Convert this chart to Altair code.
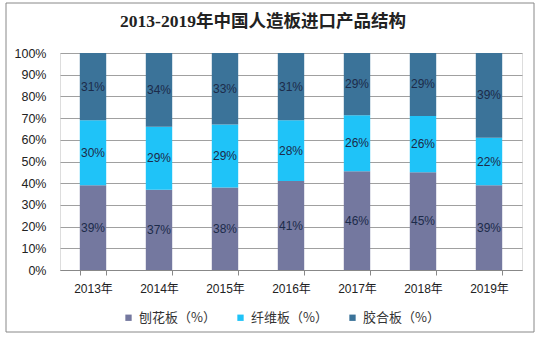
import altair as alt
import pandas as pd

years = ["2013年", "2014年", "2015年", "2016年", "2017年", "2018年", "2019年"]
particle = [39, 37, 38, 41, 46, 45, 39]
fiber = [30, 29, 29, 28, 26, 26, 22]
plywood = [31, 34, 33, 31, 29, 29, 39]
series = ["刨花板（%）", "纤维板（%）", "胶合板（%）"]
colors = ["#74789F", "#1FC3F8", "#3B7399"]
title_text = "2013-2019年中国人造板进口产品结构"
y_ticks = [0, 0.1, 0.2, 0.3, 0.4, 0.5, 0.6, 0.7, 0.8, 0.9, 1.0]

rows = []
for s_i, (name, vals) in enumerate(zip(series, [particle, fiber, plywood])):
    for y, v in zip(years, vals):
        rows.append({"year": y, "series": name, "value": v, "order": s_i})
df = pd.DataFrame(rows)

base = alt.Chart(df).transform_stack(
    stack="value", groupby=["year"], as_=["y0", "y1"], offset="normalize",
    sort=[alt.SortField("order", order="ascending")]
).transform_calculate(mid="(datum.y0 + datum.y1) / 2", label="datum.value + '%'")

xaxis = alt.Axis(labelAngle=0, labelFontSize=12, labelColor="#222",
                 labelFont="Liberation Sans, Noto Sans CJK SC",
                 domainColor="#888", tickColor="#888", tickBand="extent",
                 tickSize=5, labelPadding=8)
yaxis = alt.Axis(format=".0%", values=y_ticks, labelOverlap=False,
                 labelFontSize=12.5, labelColor="#222", domain=False, ticks=False,
                 gridColor="#A0A0A0", labelPadding=14,
                 labelFont="Liberation Sans, Noto Sans CJK SC")
xscale = alt.Scale(paddingInner=0.6, paddingOuter=0.3)
yscale = alt.Scale(domain=[0, 1])

bars = base.mark_bar().encode(
    x=alt.X("year:N", sort=years, title=None, scale=xscale, axis=xaxis),
    y=alt.Y("y0:Q", title=None, scale=yscale, axis=yaxis),
    y2="y1:Q",
    color=alt.Color("series:N", sort=series,
                    scale=alt.Scale(domain=series, range=colors),
                    legend=alt.Legend(orient="none", legendX=62, legendY=258,
                                      direction="horizontal", title=None,
                                      symbolType="square", symbolSize=40,
                                      labelFontSize=13, labelColor="#333",
                                      labelFont="Noto Sans CJK SC",
                                      columnPadding=18, symbolStrokeWidth=0)),
    order=alt.Order("order:Q"),
)

texts = base.mark_text(fontSize=12, color="#1C2B4A",
                       font="Liberation Sans, Noto Sans CJK SC").encode(
    x=alt.X("year:N", sort=years, title=None, scale=xscale, axis=xaxis),
    y=alt.Y("mid:Q", title=None, scale=yscale, axis=yaxis),
    text="label:N",
)

one = pd.DataFrame({"t": [title_text]})
frame = alt.Chart(one).mark_rect(
    fill=None, stroke="#888", strokeWidth=1
).encode(x=alt.value(-54), x2=alt.value(474), y=alt.value(-50), y2=alt.value(279))

title = alt.Chart(one).mark_text(
    fontSize=17.5, font="Liberation Serif, Noto Sans CJK SC", fontWeight="bold",
    color="#222", align="center", baseline="middle"
).encode(x=alt.value(203), y=alt.value(-31), text="t:N")

chart = alt.layer(bars, texts, frame, title).properties(
    width=462, height=217,
    padding={"left": 60, "top": 53, "right": 17, "bottom": 68},
    autosize=alt.AutoSizeParams(type="none"),
).configure_view(stroke=None).configure(background="white")

chart.save("out.html", embed_options={"renderer": "svg", "actions": False})
